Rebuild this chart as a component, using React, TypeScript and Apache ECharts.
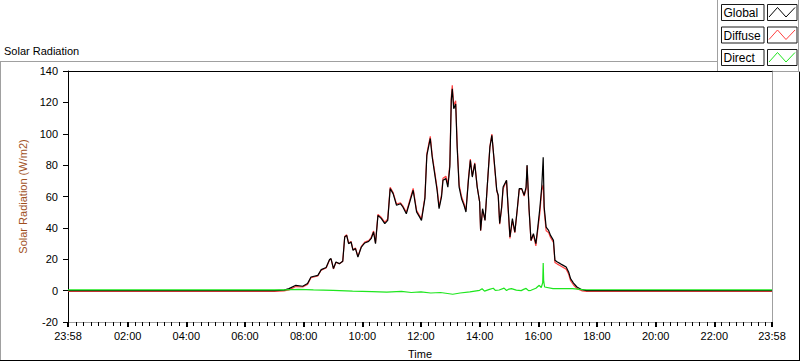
import React, { useEffect, useRef } from "react";
import * as echarts from "echarts";

const FONT = "'Liberation Sans', Arial, sans-serif";

// time in minutes after midnight (−2 = 23:58 of the previous day)
const globalTimes = [
  -2, 420, 440, 450, 464, 478, 488, 495, 509, 516,
  526, 533, 536, 541, 546, 553, 560, 564, 568, 572,
  577, 581, 586, 591, 598, 605, 613, 618, 623, 627,
  632, 639, 646, 652, 657, 663, 670, 678, 683, 690,
  696, 704, 711, 717, 721, 728, 732, 739, 743, 748,
  753, 757, 762, 765, 771, 775, 779, 782, 784, 787,
  791, 794, 798, 803, 808, 812, 817, 821, 825, 830,
  835, 840, 842, 846, 851, 855, 861, 865, 870, 875,
  878, 881, 885, 888, 895, 898, 902, 907, 912, 917,
  921, 926, 931, 935, 937, 941, 945, 950, 955, 959,
  963, 967, 970, 972, 976, 981, 985, 991, 994, 999,
  1005, 1011, 1017, 1022, 1026, 1032, 1039, 1049, 1059, 1438,
];
const globalValues = [
  0, 0, 0.3, 1.3, 3.4, 2.8, 4.5, 8.7, 9.7, 13.4,
  14.7, 19.8, 20.4, 14, 18.2, 17.2, 18.7, 34.2, 35.2, 29.9,
  31, 25.7, 26.8, 21.4, 27.8, 30.4, 31.4, 33.1, 37.4, 29.9,
  48, 45.9, 42.7, 44.8, 65, 61.8, 54.4, 55.4, 53.3, 49,
  55.4, 64, 50.2, 47, 44.8, 58.6, 86.2, 97, 85, 74.6,
  64, 52.2, 59.7, 70.3, 71.4, 66, 78.8, 121.3, 128.7, 115.9,
  119, 91.5, 66, 58.6, 54.4, 50.1, 70.3, 83, 72.4, 80.9,
  66, 56.5, 38.4, 52.2, 44.8, 64, 91.5, 99, 82, 64,
  60.8, 42.8, 53.3, 66, 70.3, 54.4, 34.2, 45.9, 37.3, 52.2,
  65, 65, 60.8, 66, 80, 52.2, 32, 36.3, 29.9, 40.5,
  52.2, 66, 85, 53.3, 40.5, 38.4, 35.2, 32, 19.3, 18.2,
  17.2, 16.1, 15, 11.9, 7.6, 4.8, 2.3, 0.6, 0, 0,
];
const diffuseValues = [
  -0.5, -0.5, -0.2, 0.5, 2.6, 2.3, 4.0, 8.2, 9.3, 13.1,
  14.4, 19.5, 20.2, 13.8, 18.0, 17.1, 18.7, 34.5, 35.6, 30.3,
  31.4, 26.0, 27.2, 21.8, 28.2, 30.9, 31.9, 33.7, 38.0, 30.5,
  48.6, 46.6, 43.5, 45.7, 65.9, 62.6, 55.1, 56.0, 54.0, 49.9,
  56.4, 65.2, 51.2, 47.9, 45.7, 59.7, 87.4, 98.4, 86.3, 75.9,
  65.3, 53.4, 61.0, 71.6, 72.9, 67.7, 80.6, 123.4, 130.9, 118.0,
  121.0, 93.3, 67.6, 60.0, 55.6, 51.1, 71.2, 83.8, 73.1, 81.4,
  66.3, 56.4, 38.2, 51.3, 44.9, 63.5, 92.0, 99.8, 80.8, 63.6,
  60.4, 42.4, 52.5, 64.8, 70.2, 53.4, 33.3, 44.6, 37.0, 51.6,
  64.4, 65.0, 60.2, 64.8, 79.4, 52.0, 31.8, 35.6, 28.5, 38.9,
  49.0, 64.0, 67.4, 51.0, 38.2, 37.1, 33.9, 30.7, 18.0, 16.9,
  15.9, 14.8, 13.7, 10.6, 6.3, 3.6, 1.3, -0.1, -0.5, -0.5,
];
const directTimes = [
  -2, 440, 470, 500, 540, 580, 620, 650, 680, 700,
  720, 740, 760, 785, 800, 820, 840, 845, 850, 860,
  868, 872, 880, 890, 895, 900, 905, 915, 925, 930,
  935, 940, 945, 955, 962, 966, 969, 970, 971, 973,
  990, 1030, 1050, 1438,
];
const directValues = [
  0.5, 0.5, 0.8, 0.5, 0.2, -0.3, -0.6, -0.9, -0.5, -1.2,
  -0.8, -1.5, -1.2, -2.3, -1.5, -0.8, 0.2, 1.2, -0.3, 0.8,
  1.5, 0.2, 0.4, 1.6, 0.1, 1.0, 1.3, 0.3, 0.0, 0.8,
  1.4, 0.0, 0.2, 1.5, 3.4, 2.0, 5.0, 17.6, 6.0, 2.3,
  1.3, 1.3, 0.6, 0.5,
];

const xMajorTicks = [-2, 120, 240, 360, 480, 600, 720, 840, 960, 1080, 1200, 1320, 1438];
const xMinorTicks: number[] = [];
for (let m = 0; m < 1438; m += 15) if (m % 120 !== 0) xMinorTicks.push(m);

const legendNames = ["Global", "Diffuse", "Direct"];
const legendColors = ["#000000", "#ff4040", "#1ee61e"];

const fmtTime = (v: number) => {
  const m = ((Math.round(v) % 1440) + 1440) % 1440;
  const hh = Math.floor(m / 60);
  const mm = m % 60;
  return `${hh < 10 ? "0" : ""}${hh}:${mm < 10 ? "0" : ""}${mm}`;
};

const pair = (ts: number[], vs: number[]) => ts.map((t, i) => [t, vs[i]]);

export default function App() {
  const ref = useRef<HTMLDivElement>(null);
  useEffect(() => {
    if (!ref.current) return;
    const chart = echarts.init(ref.current, undefined, { renderer: "svg" });

    const graphic: any[] = [
      // outer panel
      { type: "line", silent: true, shape: { x1: 0, y1: 61.5, x2: 717, y2: 61.5 }, style: { stroke: "#a0a0a0", lineWidth: 1 } },
      { type: "line", silent: true, shape: { x1: 0.5, y1: 61, x2: 0.5, y2: 361 }, style: { stroke: "#a0a0a0", lineWidth: 1 } },
      { type: "line", silent: true, shape: { x1: 0, y1: 360.5, x2: 800, y2: 360.5 }, style: { stroke: "#000", lineWidth: 1 } },
      { type: "line", silent: true, shape: { x1: 799.5, y1: 72, x2: 799.5, y2: 361 }, style: { stroke: "#000", lineWidth: 1 } },
      // legend panel
      { type: "line", silent: true, shape: { x1: 717.5, y1: 0, x2: 717.5, y2: 72 }, style: { stroke: "#a0a0a0", lineWidth: 1 } },
      { type: "line", silent: true, shape: { x1: 717, y1: 71.5, x2: 800, y2: 71.5 }, style: { stroke: "#a0a0a0", lineWidth: 1 } },
      { type: "line", silent: true, shape: { x1: 798.5, y1: 0, x2: 798.5, y2: 72 }, style: { stroke: "#a0a0a0", lineWidth: 1 } },
      // title
      {
        type: "text", silent: true, x: 4, y: 51,
        style: { text: "Solar Radiation", fill: "#000", fontSize: 11, fontFamily: FONT, verticalAlign: "middle", align: "left" },
      },
    ];
    legendNames.forEach((name, i) => {
      const y0 = 4.5 + i * 22.5;
      graphic.push(
        { type: "rect", silent: true, shape: { x: 721.5, y: y0, width: 42.5, height: 16 }, style: { fill: "#fff", stroke: "#1a1a1a", lineWidth: 1 } },
        { type: "text", silent: true, x: 723.5, y: y0 + 8.5, style: { text: name, fill: "#000", fontSize: 12, fontFamily: FONT, verticalAlign: "middle", align: "left" } },
        { type: "rect", silent: true, shape: { x: 767.5, y: y0, width: 29.5, height: 16 }, style: { fill: "#fff", stroke: "#1a1a1a", lineWidth: 1 } },
        {
          type: "polyline", silent: true,
          shape: { points: [[769, y0 + 12.5], [777.5, y0 + 3], [786, y0 + 12.5], [795, y0 + 3]] },
          style: { stroke: legendColors[i], lineWidth: 1, fill: "none" },
        }
      );
    });

    const option: any = {
      animation: false,
      backgroundColor: "#ffffff",
      textStyle: { fontFamily: FONT },
      grid: { left: 68, right: 28, top: 71, bottom: 39, containLabel: false, outerBoundsMode: "none" },
      xAxis: [
        {
          type: "value", position: "bottom", min: -2, max: 1438,
          name: "Time", nameLocation: "middle", nameGap: 26,
          nameTextStyle: { color: "#000", fontSize: 11, fontFamily: FONT },
          axisLine: { show: true, onZero: false, lineStyle: { color: "#a0a0a0", width: 1 } },
          axisTick: { show: true, customValues: xMajorTicks, length: 5, lineStyle: { color: "#000", width: 2 } },
          axisLabel: { show: true, customValues: xMajorTicks, formatter: fmtTime, color: "#000", fontSize: 11, fontFamily: FONT, margin: 8 },
          splitLine: { show: false },
        },
        {
          type: "value", position: "bottom", min: -2, max: 1438,
          axisLine: { show: false, onZero: false },
          axisTick: { show: true, customValues: xMinorTicks, length: 4, lineStyle: { color: "#000", width: 1 } },
          axisLabel: { show: false },
          splitLine: { show: false },
        },
        {
          type: "value", position: "top", min: -2, max: 1438,
          axisLine: { show: true, onZero: false, lineStyle: { color: "#000", width: 1 } },
          axisTick: { show: false }, axisLabel: { show: false }, splitLine: { show: false },
        },
      ],
      yAxis: [
        {
          type: "value", position: "left", min: -20, max: 140, interval: 20,
          name: "Solar Radiation (W/m2)", nameLocation: "middle", nameGap: 31, nameRotate: 90,
          nameTextStyle: { color: "#a0501e", fontSize: 11, fontFamily: FONT },
          axisLine: { show: true, onZero: false, lineStyle: { color: "#000", width: 1 } },
          axisTick: { show: true, length: 5, lineStyle: { color: "#000", width: 1 } },
          axisLabel: { color: "#000", fontSize: 11, fontFamily: FONT, margin: 10 },
          splitLine: { show: false },
        },
        {
          type: "value", position: "right", min: -20, max: 140, interval: 20,
          axisLine: { show: true, onZero: false, lineStyle: { color: "#a0a0a0", width: 1 } },
          axisTick: { show: false }, axisLabel: { show: false }, splitLine: { show: false },
        },
      ],
      series: [
        {
          name: "Diffuse", type: "line", xAxisIndex: 0, yAxisIndex: 0, showSymbol: false, symbol: "none",
          data: pair(globalTimes, diffuseValues), lineStyle: { color: legendColors[1], width: 1.2 }, itemStyle: { color: legendColors[1] },
        },
        {
          name: "Global", type: "line", xAxisIndex: 0, yAxisIndex: 0, showSymbol: false, symbol: "none",
          data: pair(globalTimes, globalValues), lineStyle: { color: legendColors[0], width: 1.2 }, itemStyle: { color: legendColors[0] },
        },
        {
          name: "Direct", type: "line", xAxisIndex: 0, yAxisIndex: 0, showSymbol: false, symbol: "none",
          data: pair(directTimes, directValues), lineStyle: { color: legendColors[2], width: 1.2 }, itemStyle: { color: legendColors[2] },
        },
      ],
      graphic,
    };
    chart.setOption(option);
    return () => chart.dispose();
  }, []);

  return (
    <div
      ref={ref}
      style={{ position: "absolute", left: 0, top: 0, width: 800, height: 361, background: "#fff" }}
    />
  );
}
